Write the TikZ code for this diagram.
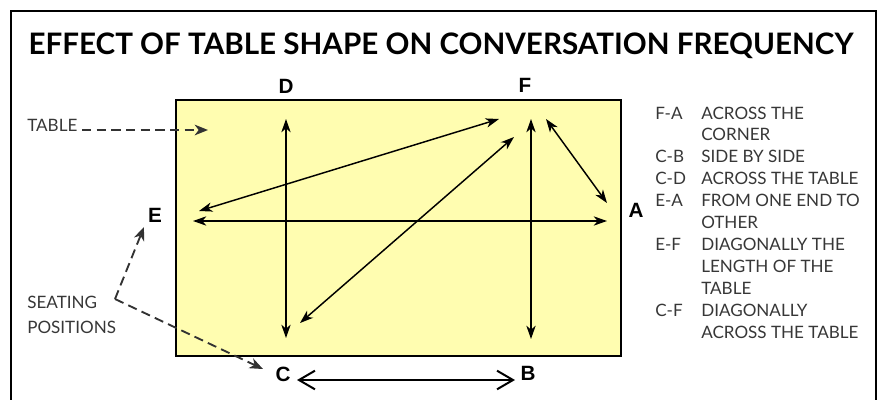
\documentclass[tikz,border=0pt]{standalone}
\usepackage{fontspec}
\setmainfont{Lato}
\newfontfamily\arialfont{Liberation Sans}
\usetikzlibrary{arrows.meta}
\definecolor{tablefill}{RGB}{255,253,176}
\definecolor{legendgray}{RGB}{55,55,55}
\definecolor{dashgray}{RGB}{50,50,50}
\tikzset{
  seat/.style={font=\arialfont\bfseries\fontsize{15.5pt}{17pt}\selectfont, inner sep=0pt},
  legtext/.style={font=\fontsize{12.8pt}{14pt}\selectfont, text=legendgray, anchor=base west, inner sep=0pt},
  conv/.style={line width=1.1pt, {Stealth[length=10pt,width=7pt,inset=3pt]}-{Stealth[length=10pt,width=7pt,inset=3pt]}},
  pointer/.style={dashgray, dash pattern=on 7pt off 4pt, line width=1.4pt, -{Stealth[length=10pt,width=8pt,inset=3pt]}},
  side/.style={line width=1.1pt, {Straight Barb[length=12pt,width=14pt,line width=1.5pt]}-{Straight Barb[length=12pt,width=14pt,line width=1.5pt]}}
}
\begin{document}
\begin{tikzpicture}[x=0.75pt,y=-0.75pt]
\useasboundingbox (0,0) rectangle (879,400);
% frame
\draw[line width=1.8pt] (11,402) -- (11,11) -- (876,11) -- (876,402);
% title
\node[font=\bfseries\fontsize{22.2pt}{24pt}\selectfont, anchor=base, inner sep=0pt] (title) at (441,54) {EFFECT OF TABLE SHAPE ON CONVERSATION FREQUENCY};
% table
\draw[line width=1.6pt, fill=tablefill] (176,100) rectangle (621,356);
% seats
\node[seat] (D) at (286,86) {D};
\node[seat] (F) at (525,85) {F};
\node[seat] (E) at (155,215) {E};
\node[seat] (A) at (636,210) {A};
\node[seat] (C) at (283,374) {C};
\node[seat] (B) at (528,373) {B};
% arrow end points
\coordinate (d1) at (286,119);
\coordinate (d2) at (286,338);
\coordinate (e1) at (193,221);
\coordinate (a1) at (607,221);
\coordinate (e2) at (199,211);
\coordinate (f1) at (499,119);
\coordinate (c1) at (300,323);
\coordinate (f2) at (514,137);
\coordinate (f3) at (531,119);
\coordinate (b1) at (531,339);
\coordinate (f4) at (546,119);
\coordinate (a2) at (607,203);
\coordinate (c2) at (297,380);
\coordinate (b2) at (515,380);
% conversations
\draw[conv] (d1) -- (d2);
\draw[conv] (e1) -- (a1);
\draw[conv] (e2) -- (f1);
\draw[conv] (c1) -- (f2);
\draw[conv] (f3) -- (b1);
\draw[conv] (f4) -- (a2);
\draw[side] (c2) -- (b2);
% callouts
\node[legtext] (tablelbl) at (27,131) {TABLE};
\coordinate (ts) at (82,130);
\coordinate (tt) at (208,130);
\draw[pointer] (ts) -- (tt);
\node[legtext] (seat1) at (27,308) {SEATING};
\node[legtext] (seat2) at (27,333) {POSITIONS};
\coordinate (sk) at (115,299);
\coordinate (se) at (144,227);
\coordinate (sc) at (263,369);
\draw[pointer] (sk) -- (se);
\draw[pointer] (sk) -- (sc);
% legend
\foreach \i/\code/\desc in {0/F-A/ACROSS THE, 1//CORNER, 2/C-B/SIDE BY SIDE, 3/C-D/ACROSS THE TABLE, 4/E-A/FROM ONE END TO, 5//OTHER, 6/E-F/DIAGONALLY THE, 7//LENGTH OF THE, 8//TABLE, 9/C-F/DIAGONALLY, 10//ACROSS THE TABLE}{
  \node[legtext] (code\i) at (655,119+21.9*\i) {\code};
  \node[legtext] (desc\i) at (701,119+21.9*\i) {\desc};
}
\end{tikzpicture}
\end{document}
